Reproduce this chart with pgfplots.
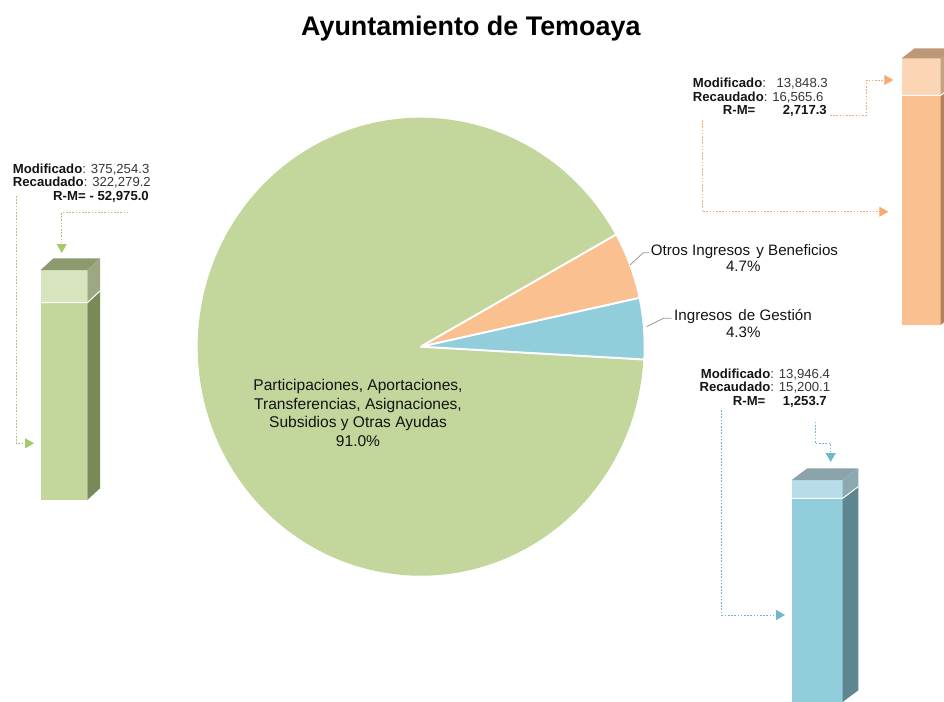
\documentclass[border=0pt]{standalone}
\usepackage{pgfplots}
\pgfplotsset{compat=1.18}
\usetikzlibrary{arrows.meta}
\usepackage{fontspec}
\setmainfont{Liberation Sans}
\definecolor{piegreen}{RGB}{195,214,155}
\definecolor{pieorange}{RGB}{250,192,144}
\definecolor{pieblue}{RGB}{146,205,220}
\definecolor{gLight}{RGB}{215,228,189}
\definecolor{gTop}{RGB}{140,154,110}
\definecolor{gSideL}{RGB}{158,168,128}
\definecolor{gSide}{RGB}{122,137,88}
\definecolor{oLight}{RGB}{252,213,181}
\definecolor{oTop}{RGB}{190,152,118}
\definecolor{oSideL}{RGB}{196,162,132}
\definecolor{oSide}{RGB}{178,130,92}
\definecolor{bLight}{RGB}{183,222,232}
\definecolor{bTop}{RGB}{138,164,170}
\definecolor{bSideL}{RGB}{140,168,176}
\definecolor{bSide}{RGB}{94,134,144}
\definecolor{gLine}{RGB}{165,200,110}
\definecolor{oLine}{RGB}{245,170,115}
\definecolor{bLine}{RGB}{110,185,205}
\definecolor{leader}{RGB}{150,150,150}
\definecolor{txt}{RGB}{20,20,20}
\definecolor{val}{RGB}{55,55,55}
\newcommand\fa{\fontsize{13.2}{14}\selectfont}
\newcommand\fb{\fontsize{15.2}{18}\selectfont}
\newcommand\fc{\fontsize{15.6}{18}\selectfont}
\begin{document}
\begin{tikzpicture}
\begin{axis}[name=ax, x=1bp, y=1bp, xmin=0, xmax=944, ymin=0, ymax=702,
  y dir=reverse, hide axis, clip=true, scale only axis]
% ---- pie: 4.3% (Ingresos de Gestion), 4.7% (Otros Ingresos), 91.0% (Participaciones)
% start angle -3.2; 4.3% = 15.48 deg; 4.7% = 16.92 deg; 91.0% = 327.6 deg
\fill[pieblue] (axis cs:420.7,346.7) -- ++(-3.2:223bp and 229bp) arc[start angle=-3.2, end angle=12.28, x radius=223bp, y radius=229bp] -- cycle;
\fill[pieorange] (axis cs:420.7,346.7) -- ++(12.28:223bp and 229bp) arc[start angle=12.28, end angle=29.2, x radius=223bp, y radius=229bp] -- cycle;
\fill[piegreen] (axis cs:420.7,346.7) -- ++(29.2:223bp and 229bp) arc[start angle=29.2, end angle=356.8, x radius=223bp, y radius=229bp] -- cycle;
\draw[white, line width=2bp] (axis cs:420.7,346.7) -- ++(-3.2:224bp and 230bp);
\draw[white, line width=2bp] (axis cs:420.7,346.7) -- ++(12.28:224bp and 230bp);
\draw[white, line width=2bp] (axis cs:420.7,346.7) -- ++(29.2:224bp and 230bp);
% ---- green bar (Modificado 375,254.3 ; Recaudado 322,279.2)
\addplot[fill=piegreen, draw=none] coordinates {(40.7,302.7) (87.3,302.7) (87.3,500) (40.7,500)} -- cycle;
\addplot[fill=gLight, draw=none] coordinates {(40.7,270) (87.3,270) (87.3,302.7) (40.7,302.7)} -- cycle;
\addplot[fill=gTop, draw=none] coordinates {(40.7,270) (87.3,270) (100,258.3) (53.4,258.3)} -- cycle;
\addplot[fill=gSideL, draw=none] coordinates {(87.3,270) (100,258.3) (100,291) (87.3,302.7)} -- cycle;
\addplot[fill=gSide, draw=none] coordinates {(87.3,302.7) (100,291) (100,488.3) (87.3,500)} -- cycle;
\addplot[white, line width=1bp] coordinates {(40.7,302.7) (87.3,302.7) (100,291)};
% ---- orange bar (Modificado 13,848.3 ; Recaudado 16,565.6)
\addplot[fill=pieorange, draw=none] coordinates {(901.7,95.5) (940.5,95.5) (940.5,325) (901.7,325)} -- cycle;
\addplot[fill=oLight, draw=none] coordinates {(901.7,58.3) (940.5,58.3) (940.5,95.5) (901.7,95.5)} -- cycle;
\addplot[fill=oTop, draw=none] coordinates {(901.7,58.3) (940.5,58.3) (953.5,48.3) (914.7,48.3)} -- cycle;
\addplot[fill=oSideL, draw=none] coordinates {(940.5,58.3) (953.5,48.3) (953.5,85.5) (940.5,95.5)} -- cycle;
\addplot[fill=oSide, draw=none] coordinates {(940.5,95.5) (953.5,85.5) (953.5,315) (940.5,325)} -- cycle;
\addplot[white, line width=1bp] coordinates {(901.7,95.5) (940.5,95.5) (953.5,85.5)};
% ---- blue bar (Modificado 13,946.4 ; Recaudado 15,200.1)
\addplot[fill=pieblue, draw=none] coordinates {(791.7,498.3) (842.7,498.3) (842.7,702) (791.7,702)} -- cycle;
\addplot[fill=bLight, draw=none] coordinates {(791.7,480) (842.7,480) (842.7,498.3) (791.7,498.3)} -- cycle;
\addplot[fill=bTop, draw=none] coordinates {(791.7,480) (842.7,480) (858.3,468.3) (807.3,468.3)} -- cycle;
\addplot[fill=bSideL, draw=none] coordinates {(842.7,480) (858.3,468.3) (858.3,486.6) (842.7,498.3)} -- cycle;
\addplot[fill=bSide, draw=none] coordinates {(842.7,498.3) (858.3,486.6) (858.3,690.3) (842.7,702)} -- cycle;
\addplot[white, line width=1bp] coordinates {(791.7,498.3) (842.7,498.3) (858.3,486.6)};
% ---- connector arrows
\addplot[gLine, line width=0.9bp, dash pattern=on 1.6bp off 1.6bp, -{Triangle[width=10bp,length=9bp]}] coordinates {(128.3,212.3) (61.7,212.3) (61.7,253)};
\addplot[gLine, line width=0.9bp, dash pattern=on 1.6bp off 1.6bp, -{Triangle[width=10bp,length=9bp]}] coordinates {(16,196) (16,443.3) (34,443.3)};
\addplot[oLine, line width=0.9bp, dash pattern=on 1.6bp off 1.6bp, -{Triangle[width=10bp,length=9bp]}] coordinates {(830,115) (866.7,115) (866.7,80) (893.3,80)};
\addplot[oLine, line width=0.9bp, dash pattern=on 1.6bp off 1.6bp, -{Triangle[width=10bp,length=9bp]}] coordinates {(702,120) (702,211.7) (888.3,211.7)};
\addplot[bLine, line width=0.9bp, dash pattern=on 1.6bp off 1.6bp, -{Triangle[width=10bp,length=9bp]}] coordinates {(815,421.7) (815,443.3) (830.7,443.3) (830.7,462)};
\addplot[bLine, line width=0.9bp, dash pattern=on 1.6bp off 1.6bp, -{Triangle[width=10bp,length=9bp]}] coordinates {(721.7,410) (721.7,615) (785,615)};
% ---- pie leader lines
\addplot[leader, line width=0.8bp] coordinates {(630,265) (643.3,252.7) (649.3,252.7)};
\addplot[leader, line width=0.8bp] coordinates {(646.7,326.7) (663.3,318.3) (671.7,318.3)};
% ---- texts
\node[anchor=base, font=\fontsize{27}{30}\selectfont\bfseries, text=black, inner sep=0pt] at (axis cs:470.8,36) {Ayuntamiento de Temoaya};
\node[anchor=base, font=\fc, text=txt, inner sep=0pt] at (axis cs:358,390.7) {Participaciones, Aportaciones,};
\node[anchor=base, font=\fc, text=txt, inner sep=0pt] at (axis cs:358,409.2) {Transferencias, Asignaciones,};
\node[anchor=base, font=\fc, text=txt, inner sep=0pt] at (axis cs:358,427.7) {Subsidios y Otras Ayudas};
\node[anchor=base, font=\fc, text=txt, inner sep=0pt] at (axis cs:358,446.2) {91.0\%};
\node[anchor=base west, font=\fb, text=txt, inner sep=0pt] at (axis cs:650.7,255) {Otros Ingresos\hspace{2bp} y Beneficios};
\node[anchor=base, font=\fb, text=txt, inner sep=0pt] at (axis cs:743.3,271.7) {4.7\%};
\node[anchor=base west, font=\fb, text=txt, inner sep=0pt] at (axis cs:674,320) {Ingresos\hspace{2bp} de Gestión};
\node[anchor=base, font=\fb, text=txt, inner sep=0pt] at (axis cs:743.3,337.3) {4.3\%};
% green block
\node[anchor=base west, font=\fa, text=val, inner sep=0pt] at (axis cs:12.7,173.3) {\textcolor{txt}{\textbf{Modificado}}: 375,254.3};
\node[anchor=base west, font=\fa, text=val, inner sep=0pt] at (axis cs:12.7,186.7) {\textcolor{txt}{\textbf{Recaudado}}: 322,279.2};
\node[anchor=base west, font=\fa\bfseries, text=txt, inner sep=0pt] at (axis cs:53,200) {R-M=};
\node[anchor=base east, font=\fa\bfseries, text=txt, inner sep=0pt] at (axis cs:149,200) {- 52,975.0};
% orange block
\node[anchor=base west, font=\fa\bfseries, text=txt, inner sep=0pt] at (axis cs:692.7,88) {Modificado\mdseries\textcolor{val}{:}};
\node[anchor=base east, font=\fa, text=val, inner sep=0pt] at (axis cs:828,88) {13,848.3};
\node[anchor=base west, font=\fa, text=val, inner sep=0pt] at (axis cs:692.7,101.7) {\textcolor{txt}{\textbf{Recaudado}}: 16,565.6};
\node[anchor=base west, font=\fa\bfseries, text=txt, inner sep=0pt] at (axis cs:722.7,115) {R-M=};
\node[anchor=base east, font=\fa\bfseries, text=txt, inner sep=0pt] at (axis cs:827,115) {2,717.3};
% blue block
\node[anchor=base west, font=\fa, text=val, inner sep=0pt] at (axis cs:700.7,378.3) {\textcolor{txt}{\textbf{Modificado}}: 13,946.4};
\node[anchor=base west, font=\fa, text=val, inner sep=0pt] at (axis cs:699.3,391.7) {\textcolor{txt}{\textbf{Recaudado}}: 15,200.1};
\node[anchor=base west, font=\fa\bfseries, text=txt, inner sep=0pt] at (axis cs:732.7,405) {R-M=};
\node[anchor=base east, font=\fa\bfseries, text=txt, inner sep=0pt] at (axis cs:827,405) {1,253.7};
\end{axis}
\pgfresetboundingbox
\path (ax.south west) rectangle (ax.north east);
\end{tikzpicture}
\end{document}
